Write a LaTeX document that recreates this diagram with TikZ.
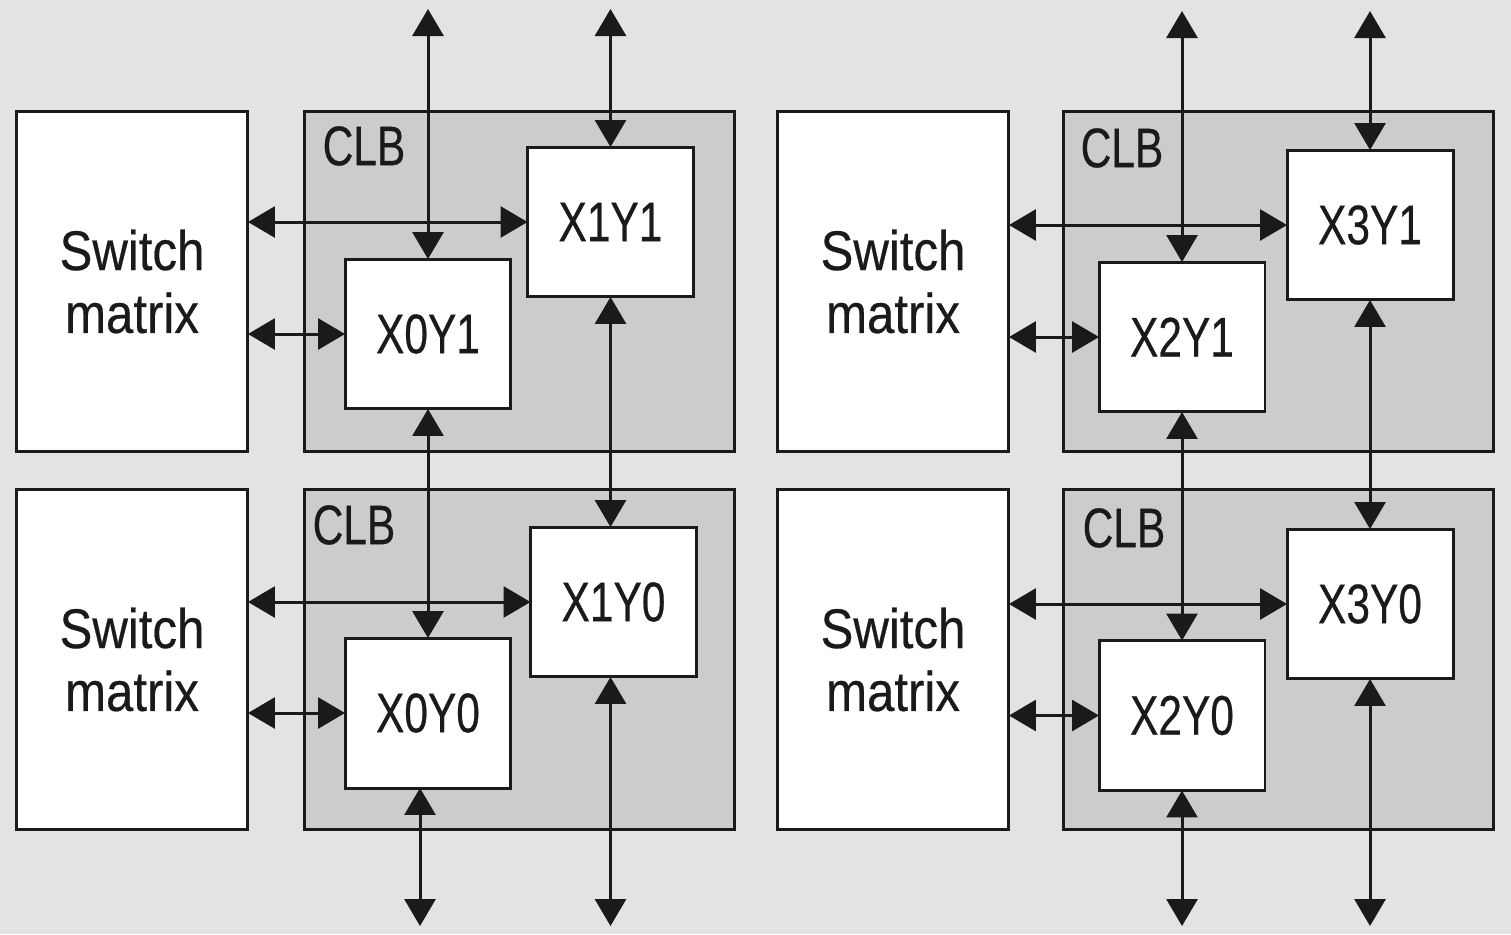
\documentclass[tikz,border=0pt]{standalone}
\usepackage{fontspec}
\setmainfont{Liberation Sans}[FakeStretch=0.76, FakeBold=0.4]
\newfontfamily\swfont{Liberation Sans}[FakeStretch=0.88, FakeBold=0.4]
\usetikzlibrary{arrows.meta,positioning}
\definecolor{bggray}{HTML}{E3E3E3}
\definecolor{clbgray}{HTML}{CCCCCC}
\definecolor{ink}{HTML}{1A1A1A}
\tikzset{
	box/.style={draw=ink, line width=0.06cm, inner sep=0pt, outer sep=0pt, align=center, text=ink},
	switchbox/.style={box, fill=white, minimum width=4.64cm, minimum height=6.82cm,
		font=\swfont\fontsize{31.8}{35.8}\selectfont},
	clbbox/.style={box, fill=clbgray, minimum width=8.62cm, minimum height=6.82cm},
	cell/.style={box, fill=white, minimum width=3.32cm, minimum height=3.0cm,
		font=\fontsize{31.8}{35.8}\selectfont},
	clblabel/.style={text=ink, inner sep=0pt, font=\fontsize{31.8}{35.8}\selectfont},
	bus/.style={draw=ink, line width=0.06cm,
		{Triangle[width=0.62cm,length=0.54cm]}-{Triangle[width=0.62cm,length=0.54cm]}}
}
\begin{document}
\begin{tikzpicture}[x=0.02cm, y=-0.02cm]
		% Fond
		\fill[bggray] (0,0) rectangle (1511,934);
		\useasboundingbox (0,0) rectangle (1511,934);

		% Switch matrices
		\node[switchbox] (swL1) at (132,281.5) {Switch\\matrix};
		\node[switchbox] (swL0) at (132,659.5) {Switch\\matrix};
		\node[switchbox] (swR1) at (893,281.5) {Switch\\matrix};
		\node[switchbox] (swR0) at (893,659.5) {Switch\\matrix};

		% CLB
		\node[clbbox] (clbL1) at (519.5,281.5) {};
		\node[clbbox] (clbL0) at (519.5,659.5) {};
		\node[clbbox] (clbR1) at (1278.5,281.5) {};
		\node[clbbox] (clbR0) at (1278.5,659.5) {};
		\node[clblabel] (labL1) at (364,146) {CLB};
		\node[clblabel] (labL0) at (354,525) {CLB};
		\node[clblabel] (labR1) at (1122,148) {CLB};
		\node[clblabel] (labR0) at (1124,528) {CLB};

		% Cellules
		\node[cell] (x0y1) at (428,334) {X0Y1};
		\node[cell] (x1y1) at (610.5,222) {X1Y1};
		\node[cell] (x0y0) at (428,713) {X0Y0};
		\node[cell] (x1y0) at (613.5,602) {X1Y0};
		\node[cell] (x2y1) at (1182,337) {X2Y1};
		\node[cell] (x3y1) at (1370,225) {X3Y1};
		\node[cell] (x2y0) at (1182,715.5) {X2Y0};
		\node[cell] (x3y0) at (1370,604) {X3Y0};

		% Extremites libres
		\coordinate (t0) at (428,9);
		\coordinate (t1) at (610.5,9);
		\coordinate (t2) at (1182,11);
		\coordinate (t3) at (1370,11);
		\coordinate (b0) at (420,926);
		\coordinate (b1) at (610.5,926);
		\coordinate (b2) at (1182,926);
		\coordinate (b3) at (1370,926);

		% Liaisons
		\draw[bus] (t0) -- (x0y1.north);
		\draw[bus] (t1) -- (x1y1.north);
		\draw[bus] (swL1.east |- x1y1.west) -- (x1y1.west);
		\draw[bus] (swL1.east |- x0y1.west) -- (x0y1.west);
		\draw[bus] (x0y1.south) -- (x0y0.north);
		\draw[bus] (x1y1.south) -- (x1y1.south |- x1y0.north);
		\draw[bus] (swL0.east |- x1y0.west) -- (x1y0.west);
		\draw[bus] (swL0.east |- x0y0.west) -- (x0y0.west);
		\draw[bus] (x0y0.south -| b0) -- (b0);
		\draw[bus] (x1y0.south -| b1) -- (b1);

		\draw[bus] (t2) -- (x2y1.north);
		\draw[bus] (t3) -- (x3y1.north);
		\draw[bus] (swR1.east |- x3y1.west) -- (x3y1.west);
		\draw[bus] (swR1.east |- x2y1.west) -- (x2y1.west);
		\draw[bus] (x2y1.south) -- (x2y0.north);
		\draw[bus] (x3y1.south) -- (x3y0.north);
		\draw[bus] (swR0.east |- x3y0.west) -- (x3y0.west);
		\draw[bus] (swR0.east |- x2y0.west) -- (x2y0.west);
		\draw[bus] (x2y0.south) -- (b2);
		\draw[bus] (x3y0.south) -- (b3);
\end{tikzpicture}
\end{document}
